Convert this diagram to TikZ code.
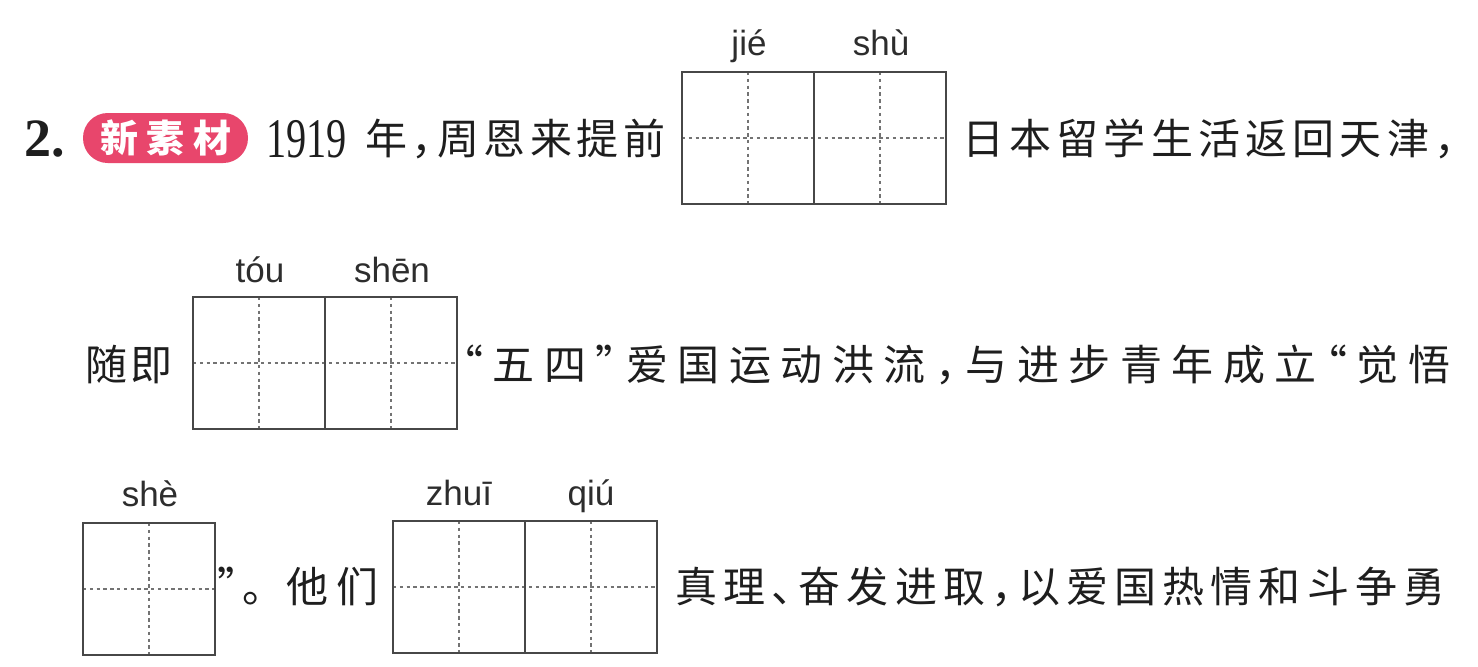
\documentclass[tikz,border=0pt]{standalone}
\usepackage{fontspec}
\newfontfamily\cjk{Noto Sans CJK SC}
\newfontfamily\py{Liberation Sans}
\newfontfamily\lserif{Liberation Serif}
\definecolor{txt}{RGB}{30,30,30}
\definecolor{badge}{RGB}{232,70,108}
\definecolor{pinyin}{RGB}{45,45,45}
\def\sq#1{\ifx#1\relax\else#1\hfill\expandafter\sq\fi}
\newcommand\spread[2]{\makebox[#1][s]{\sq#2\relax\unskip}}
% half-width CJK punctuation
\newcommand\hcomma{\makebox[0.5em][l]{，}}
\newcommand\hdun{\makebox[0.5em][l]{、}}
\newcommand\hperiod{\makebox[0.5em][l]{。}}
\newcommand\oq{\makebox[0.5em][r]{“}}
\newcommand\cq{\makebox[0.5em][l]{”}}
\tikzset{
  cjkt/.style={font=\cjk\fontsize{21pt}{21pt}\selectfont, text=txt, inner sep=0pt, anchor=base west},
  pyt/.style={font=\py\fontsize{17.5pt}{17.5pt}\selectfont, text=pinyin, inner sep=0pt, anchor=base},
  cellline/.style={draw=black!72, line width=0.9pt},
  dashline/.style={draw=black!55, line width=0.55pt, dash pattern=on 1.7pt off 1.7pt},
}
\newcommand\grid[3]{%
  \foreach \k in {1,...,#3}{
    \draw[dashline] ({#1+132*(\k-1)+66},#2) -- ++(0,132);
  }
  \draw[dashline] (#1,{#2+66}) -- ++({132*#3},0);
  \foreach \k in {1,...,#3}{
    \ifnum\k>1 \draw[cellline] ({#1+132*(\k-1)},#2) -- ++(0,132);\fi
  }
  \draw[cellline] (#1,#2) rectangle ++({132*#3},132);
}
\begin{document}
\begin{tikzpicture}[x=0.5pt,y=-0.5pt]
\fill[white] (0,0) rectangle (1478,666);
\useasboundingbox (0,0) rectangle (1478,666);

% ---- row 1
\node[inner sep=0pt, anchor=base west, text=txt, font=\lserif\bfseries\fontsize{27pt}{27pt}\selectfont] (num) at (24,156) {2.};
\fill[badge, rounded corners=12.4pt] (83,113) rectangle (248,163);
\node[inner sep=0pt, text=white, font=\cjk\bfseries\fontsize{19pt}{19pt}\selectfont] (badgetext) at (166,137.5) {\spread{66pt}{新素材}};
\node[inner sep=0pt, anchor=base west, text=txt] (year) at (266,157) {\scalebox{0.72}[1]{\lserif\fontsize{28pt}{28pt}\selectfont 1919}};
\node[cjkt] (r1a) at (365,154) {\spread{150pt}{年\hcomma 周恩来提前}};
\grid{682}{72}{2}
\node[pyt] (py1) at (749,55) {jié};
\node[pyt] (py2) at (881,55) {shù};
\node[cjkt] (r1b) at (962,154) {\spread{246.5pt}{日本留学生活返回天津\hcomma}};

% ---- row 2
\node[cjkt] (r2a) at (85,380) {\spread{43.5pt}{随即}};
\grid{193}{297}{2}
\node[pyt] (py3) at (260,282) {tóu};
\node[pyt] (py4) at (392,282) {shēn};
\node[cjkt] (r2b) at (462,380) {\spread{494pt}{\oq 五四\cq 爱国运动洪流\hcomma 与进步青年成立\oq 觉悟}};

% ---- row 3
\grid{83}{523}{1}
\node[pyt] (py5) at (150,506) {shè};
\node[cjkt] (r3a) at (217,602) {\cq\kern2pt\hperiod};
\node[cjkt] (r3b) at (286,602) {\spread{46pt}{他们}};
\grid{393}{521}{2}
\node[pyt] (py6) at (459,505) {zhuī};
\node[pyt] (py7) at (591,505) {qiú};
\node[cjkt] (r3c) at (675,602) {\spread{385pt}{真理\hdun 奋发进取\hcomma 以爱国热情和斗争勇}};
\end{tikzpicture}
\end{document}
